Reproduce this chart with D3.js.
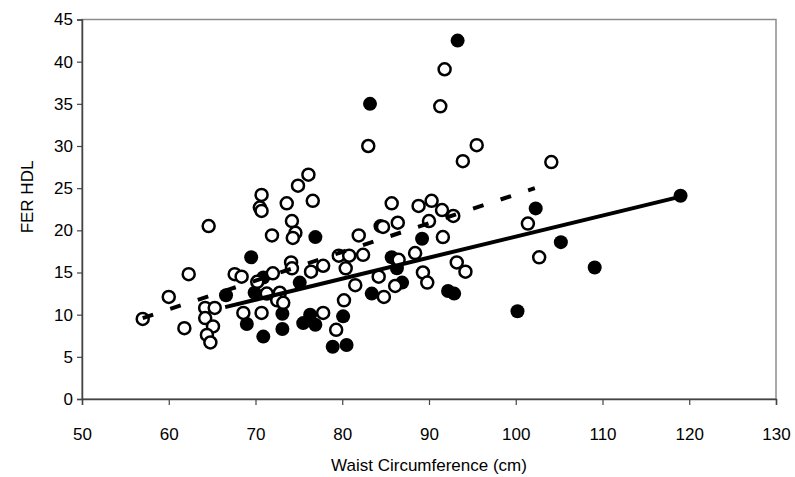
<!DOCTYPE html>
<html>
<head>
<meta charset="utf-8">
<script src="https://cdn.jsdelivr.net/npm/d3@7"></script>
<style>
  body { margin: 0; background: #fff; }
  text { font-family: "Liberation Sans", Arial, sans-serif; fill: #000; }
</style>
</head>
<body>
<svg id="chart" width="795" height="477"></svg>
<script>
const width = 795, height = 477

// open circles
const openX = [57.0, 60.0, 61.8, 62.3, 64.6, 64.2, 65.3, 64.2, 65.1, 64.4, 64.8, 67.6, 68.4, 68.6, 70.2, 70.7,
  70.7, 70.5, 70.7, 71.3, 71.9, 72.0, 72.8, 72.5, 73.2, 73.6, 74.9, 76.1, 76.6, 74.2, 74.6, 74.3, 74.1, 74.2,
  76.4, 77.8, 79.6, 80.8, 82.4, 80.4, 81.5, 80.2, 77.8, 79.3, 81.9, 83.0, 84.2, 84.8, 84.7, 86.4, 85.7, 86.5,
  86.1, 88.4, 88.8, 90.3, 90.0, 89.3, 89.8, 91.5, 92.8, 91.6, 93.2, 94.2, 91.8, 91.3, 95.5, 93.9, 104.1, 101.4, 102.7]
const openY = [9.5, 12.1, 8.4, 14.8, 20.5, 10.8, 10.8, 9.6, 8.6, 7.6, 6.7, 14.8, 14.5, 10.2, 13.9, 10.2,
  24.2, 22.7, 22.3, 12.5, 19.4, 14.9, 12.6, 11.7, 11.4, 23.2, 25.3, 26.6, 23.5, 21.1, 19.7, 19.1, 16.2, 15.5,
  15.1, 15.8, 17.0, 17.0, 17.1, 15.5, 13.5, 11.7, 10.2, 8.2, 19.4, 30.0, 14.5, 12.1, 20.4, 20.9, 23.2, 16.5,
  13.4, 17.3, 22.9, 23.5, 21.1, 15.0, 13.8, 22.4, 21.7, 19.2, 16.2, 15.1, 39.1, 34.7, 30.1, 28.2, 28.1, 20.8, 16.8]

// filled circles
const fillX = [93.3, 83.2, 119.0, 102.3, 105.2, 109.1, 100.2, 89.2, 92.2, 92.9, 69.5, 66.6, 69.9, 70.9, 69.0, 70.9,
  73.1, 73.1, 75.1, 76.9, 75.5, 76.3, 76.9, 80.1, 78.9, 80.5, 83.4, 84.4, 85.7, 86.3, 86.9]
const fillY = [42.5, 35.0, 24.1, 22.6, 18.6, 15.6, 10.4, 19.0, 12.8, 12.5, 16.8, 12.3, 12.6, 14.4, 8.9, 7.4,
  10.1, 8.3, 13.8, 19.2, 9.0, 10.0, 8.8, 9.8, 6.2, 6.4, 12.5, 20.5, 16.8, 15.5, 13.8]

// trend lines (end points)
const solidX = [66.5, 119.0], solidY = [10.9, 24.0]
const dashX = [57.0, 102.2], dashY = [9.6, 25.0]

const xTicks = [50, 60, 70, 80, 90, 100, 110, 120, 130]
const yTicks = [0, 5, 10, 15, 20, 25, 30, 35, 40, 45]

const svg = d3.select("#chart")
const x = d3.scaleLinear().domain([50, 130]).range([82, 776])
const y = d3.scaleLinear().domain([0, 45]).range([399, 19.5])

// plot border (grey top/right)
svg.append("rect").attr("x", 82).attr("y", 19.5).attr("width", 776 - 82).attr("height", 399 - 19.5)
  .attr("fill", "none").attr("stroke", "#8c8c8c").attr("stroke-width", 1.5)

const xAxis = svg.append("g").attr("transform", "translate(0,399)")
  .call(d3.axisBottom(x).tickValues(xTicks).tickSize(6).tickPadding(23))
const yAxis = svg.append("g").attr("transform", "translate(82,0)")
  .call(d3.axisLeft(y).tickValues(yTicks).tickSize(5).tickPadding(4))

;[xAxis, yAxis].forEach(a => {
  a.select(".domain").attr("stroke", "#444").attr("stroke-width", 1.5)
  a.selectAll(".tick line").attr("stroke", "#444").attr("stroke-width", 1.2)
  a.selectAll(".tick text").style("font-size", "17px").style("font-family", "Liberation Sans, Arial, sans-serif").attr("fill", "#000")
})

const g = svg.append("g")

g.selectAll("circle.filled").data(fillX).enter().append("circle")
  .attr("class", "filled")
  .attr("cx", d => x(d)).attr("cy", (d, i) => y(fillY[i])).attr("r", 7)
  .attr("fill", "#000")

g.selectAll("circle.open").data(openX).enter().append("circle")
  .attr("class", "open")
  .attr("cx", d => x(d)).attr("cy", (d, i) => y(openY[i])).attr("r", 6)
  .attr("fill", "#fff").attr("stroke", "#000").attr("stroke-width", 2.5)

const line = d3.line().x(d => x(d[0])).y(d => y(d[1]))

g.append("path").datum(dashX.map((d, i) => [d, dashY[i]]))
  .attr("d", line).attr("fill", "none").attr("stroke", "#000")
  .attr("stroke-width", 4).attr("stroke-dasharray", "11,18")

g.append("path").datum(solidX.map((d, i) => [d, solidY[i]]))
  .attr("d", line).attr("fill", "none").attr("stroke", "#000")
  .attr("stroke-width", 4)

svg.append("text")
  .attr("x", (82 + 776) / 2).attr("y", 471)
  .attr("text-anchor", "middle")
  .style("font-size", "17px")
  .text("Waist Circumference (cm)")

svg.append("text")
  .attr("transform", "translate(33,197) rotate(-90)")
  .attr("text-anchor", "middle")
  .style("font-size", "17px")
  .text("FER HDL")
</script>
</body>
</html>
